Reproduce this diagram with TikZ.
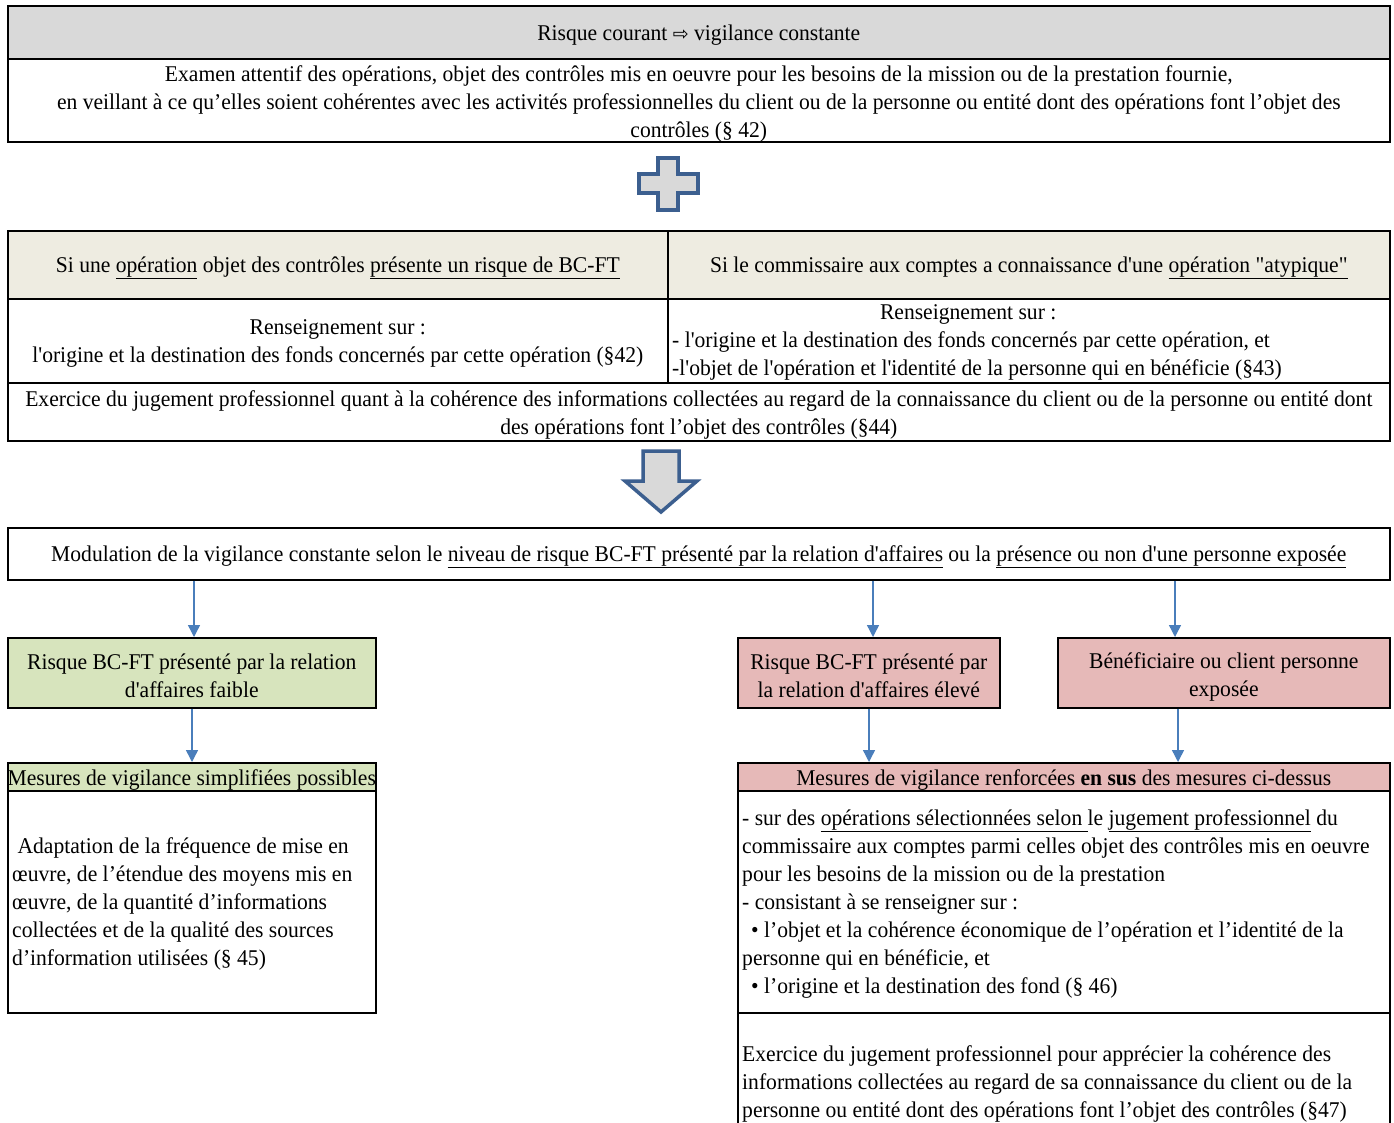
\documentclass[tikz,border=0pt]{standalone}
\usepackage{fontspec}
\setmainfont{Liberation Serif}[Ligatures=TeXOff, FakeStretch=0.96]
\newfontfamily\symfont{DejaVu Sans}
\usetikzlibrary{arrows.meta}
\definecolor{hdrgray}{HTML}{D9D9D9}
\definecolor{beige}{HTML}{EEECE1}
\definecolor{lgreen}{HTML}{D7E4BD}
\definecolor{lpink}{HTML}{E6B9B8}
\definecolor{arrblue}{HTML}{4A7EBB}
\definecolor{shapeblue}{HTML}{3C5F8F}
\newcommand\undl[1]{\underline{#1}}
\begin{document}
\begin{tikzpicture}[x=1pt,y=-1pt,
  font=\fontsize{22.5}{28}\selectfont,
  cell/.style={draw, line width=1.6pt, inner sep=0pt, anchor=north west},
  txt/.style={inner sep=0pt, align=center, yshift=-3pt},
  ltxt/.style={inner sep=0pt, align=left, anchor=west, yshift=-2pt},
  arr/.style={draw=arrblue, line width=1.4pt, -{Triangle[width=12pt,length=12pt]}},
  bigshape/.style={draw=shapeblue, line width=3.5pt, fill=hdrgray, line join=miter}]
\useasboundingbox (0,0) rectangle (1394,1122);
\fill[white] (0,0) rectangle (1394,1122);

% Section 1
\node[cell, fill=hdrgray, minimum width=1382pt, minimum height=53pt] (h1) at (7,5) {};
\node[cell, minimum width=1382pt, minimum height=83pt] (b1) at (7,58) {};
\node[txt] (h1t) at (h1.center) {Risque courant {\symfont\fontsize{19}{20}\selectfont ⇨} vigilance constante};
\node[txt] (b1t) at ([yshift=-1pt]b1.center) {Examen attentif des opérations, objet des contrôles mis en oeuvre pour les besoins de la mission ou de la prestation fournie,\\
en veillant à ce qu’elles soient cohérentes avec les activités professionnelles du client ou de la personne ou entité dont des opérations font l’objet des\\
contrôles (§ 42)};

% Plus sign
\draw[bigshape] (658,158) -- (678,158) -- (678,174) -- (698,174) -- (698,193) -- (678,193) -- (678,210) -- (658,210) -- (658,193) -- (639,193) -- (639,174) -- (658,174) -- cycle;

% Section 2
\node[cell, fill=beige, minimum width=660pt, minimum height=68pt] (s2hl) at (7,230) {};
\node[cell, fill=beige, minimum width=722pt, minimum height=68pt] (s2hr) at (667,230) {};
\node[cell, minimum width=660pt, minimum height=84pt] (s2rl) at (7,298) {};
\node[cell, minimum width=722pt, minimum height=84pt] (s2rr) at (667,298) {};
\node[cell, minimum width=1382pt, minimum height=58pt] (s2ex) at (7,382) {};
\node[txt] (s2hlt) at (s2hl.center) {Si une \undl{opération} objet des contrôles \undl{présente un risque de BC-FT}};
\node[txt] (s2hrt) at (s2hr.center) {Si le commissaire aux comptes a connaissance d'une \undl{opération "atypique"}};
\node[txt] (s2rlt) at (s2rl.center) {Renseignement sur :\\l'origine et la destination des fonds concernés par cette opération (§42)};
\node[ltxt] (s2rrt) at ([xshift=5pt]s2rr.west) {\makebox[592pt][c]{Renseignement sur :}\\
- l'origine et la destination des fonds concernés par cette opération, et\\
-l'objet de l'opération et l'identité de la personne qui en bénéficie (§43)};
\node[txt] (s2ext) at (s2ex.center) {Exercice du jugement professionnel quant à la cohérence des informations collectées au regard de la connaissance du client ou de la personne ou entité dont\\
des opérations font l’objet des contrôles (§44)};

% Down arrow
\draw[bigshape] (643,451) -- (679,451) -- (679,481) -- (697,481) -- (661,512) -- (625,481) -- (643,481) -- cycle;

% Modulation
\node[cell, minimum width=1382pt, minimum height=52pt] (mod) at (7,527) {};
\node[txt] (modt) at (mod.center) {Modulation de la vigilance constante selon le \undl{niveau de risque BC-FT présenté par la relation d'affaires} ou la \undl{présence ou non d'une personne exposée}};

% Risk boxes
\node[cell, fill=lgreen, minimum width=368pt, minimum height=70pt] (green) at (7,637) {};
\node[cell, fill=lpink, minimum width=262pt, minimum height=70pt] (pink1) at (737,637) {};
\node[cell, fill=lpink, minimum width=332pt, minimum height=70pt] (pink2) at (1057,637) {};
\node[txt] (greent) at (green.center) {Risque BC-FT présenté par la relation\\d'affaires faible};
\node[txt] (pink1t) at (pink1.center) {Risque BC-FT présenté par\\la relation d'affaires élevé};
\node[txt] (pink2t) at ([yshift=-1pt]pink2.center) {Bénéficiaire ou client personne\\exposée};

% Measures
\node[cell, fill=lgreen, minimum width=368pt, minimum height=28pt] (gh) at (7,762) {};
\node[cell, minimum width=368pt, minimum height=222pt] (gb) at (7,790) {};
\node[cell, fill=lpink, minimum width=652pt, minimum height=28pt] (ph) at (737,762) {};
\node[cell, minimum width=652pt, minimum height=222pt] (pb) at (737,790) {};
\node[cell, minimum width=652pt, minimum height=140pt] (pb2) at (737,1012) {};
\node[txt] (ght) at (gh.center) {Mesures de vigilance simplifiées possibles};
\node[txt] (pht) at (ph.center) {Mesures de vigilance renforcées \textbf{en sus} des mesures ci-dessus};
\node[ltxt] (gbt) at ([xshift=5pt]gb.west) {\ Adaptation de la fréquence de mise en\\
œuvre, de l’étendue des moyens mis en\\
œuvre, de la quantité d’informations\\
collectées et de la qualité des sources\\
d’information utilisées (§ 45)};
\node[ltxt] (pbt) at ([xshift=5pt]pb.west) {- sur des \undl{opérations sélectionnées selon }le \undl{jugement professionnel} du\\
commissaire aux comptes parmi celles objet des contrôles mis en oeuvre\\
pour les besoins de la mission ou de la prestation\\
- consistant à se renseigner sur :\\
\hspace*{9pt}• l’objet et la cohérence économique de l’opération et l’identité de la\\
personne qui en bénéficie, et\\
\hspace*{9pt}• l’origine et la destination des fond (§ 46)};
\node[ltxt] (pb2t) at ([xshift=5pt,yshift=1pt]pb2.west) {Exercice du jugement professionnel pour apprécier la cohérence des\\
informations collectées au regard de sa connaissance du client ou de la\\
personne ou entité dont des opérations font l’objet des contrôles (§47)};

% Connectors
\coordinate (xa) at (194,0);
\coordinate (xb) at (873,0);
\coordinate (xc) at (1175,0);
\coordinate (xd) at (192,0);
\coordinate (xe) at (869,0);
\coordinate (xf) at (1178,0);
\draw[arr] (mod.south -| xa) -- (green.north -| xa);
\draw[arr] (mod.south -| xb) -- (pink1.north -| xb);
\draw[arr] (mod.south -| xc) -- (pink2.north -| xc);
\draw[arr] (green.south -| xd) -- (gh.north -| xd);
\draw[arr] (pink1.south -| xe) -- (ph.north -| xe);
\draw[arr] (pink2.south -| xf) -- (ph.north -| xf);
\end{tikzpicture}
\end{document}
